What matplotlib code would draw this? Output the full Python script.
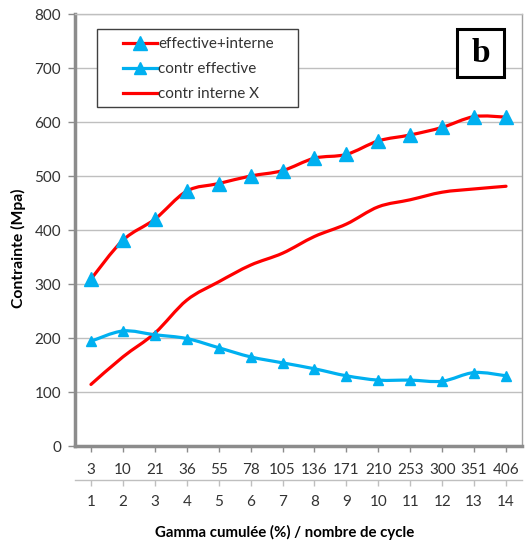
import matplotlib
matplotlib.use("Agg")
import matplotlib.pyplot as plt
from matplotlib.path import Path
from matplotlib.patches import PathPatch, Rectangle
from matplotlib.lines import Line2D
import numpy as np

plt.rcParams['font.family'] = ['Lato', 'DejaVu Sans']

cycles = [1, 2, 3, 4, 5, 6, 7, 8, 9, 10, 11, 12, 13, 14]
gamma_labels = ['3', '10', '21', '36', '55', '78', '105', '136', '171', '210', '253', '300', '351', '406']
eff_plus_int = [309, 381, 420, 472, 486, 500, 510, 533, 540, 565, 576, 590, 610, 609]
contr_eff = [194, 213, 206, 199, 182, 165, 154, 143, 130, 122, 122, 120, 136, 130]
contr_int = [114, 165, 209, 270, 304, 335, 357, 388, 411, 443, 456, 470, 476, 481]

RED = '#FF0000'
BLUE = '#00B0F0'
GREY = '#8C8C8C'
TXT = '#333333'

W, H = 525, 542
AX_L, AX_R, AX_T, AX_B = 75, 522, 14, 446
AW, AH = AX_R - AX_L, AX_B - AX_T

fig = plt.figure(figsize=(W / 100, H / 100), dpi=100)
ax = fig.add_axes([AX_L / W, 1 - AX_B / H, AW / W, AH / H])


def px(x, y):
    """pixel (from top-left of figure) -> axes fraction"""
    return (x - AX_L) / AW, (AX_B - y) / AH


def smooth_path(xs, ys):
    pts = np.column_stack([xs, ys]).astype(float)
    n = len(pts)
    verts = [pts[0]]
    codes = [Path.MOVETO]
    for i in range(n - 1):
        p0 = pts[i - 1] if i > 0 else pts[i]
        p1 = pts[i]
        p2 = pts[i + 1]
        p3 = pts[i + 2] if i + 2 < n else pts[i + 1]
        c1 = p1 + (p2 - p0) / 6.0
        c2 = p2 - (p3 - p1) / 6.0
        verts += [c1, c2, p2]
        codes += [Path.CURVE4] * 3
    return Path(verts, codes)


for ys, col in [(contr_int, RED), (contr_eff, BLUE), (eff_plus_int, RED)]:
    ax.add_patch(PathPatch(smooth_path(cycles, ys), fill=False, edgecolor=col,
                           lw=2.3, zorder=3, capstyle='round', joinstyle='round'))

ax.plot(cycles, contr_eff, ls='none', marker='^', ms=7.5, color=BLUE, zorder=4)
ax.plot(cycles, eff_plus_int, ls='none', marker='^', ms=10, color=BLUE, zorder=4)

ax.set_xlim(0.5, 14.5)
ax.set_ylim(0, 800)
ax.set_yticks(range(0, 801, 100))
ax.yaxis.grid(True, color='#BFBFBF', lw=1.0)
ax.set_axisbelow(True)

for s in ['left', 'bottom']:
    ax.spines[s].set_color(GREY)
    ax.spines[s].set_linewidth(2.5)
ax.spines['right'].set_color('#A0A0A0')
ax.spines['right'].set_linewidth(1.0)
ax.spines['top'].set_color('#BFBFBF')
ax.spines['top'].set_linewidth(1.0)

ax.tick_params(axis='y', direction='out', length=5, width=1, color=GREY,
               labelsize=11, labelcolor=TXT, pad=5)
ax.set_xticks(cycles)
ax.set_xticklabels(gamma_labels)
ax.tick_params(axis='x', direction='out', length=4, width=1, color=GREY,
               labelsize=11, labelcolor=TXT, pad=8)

sec = ax.secondary_xaxis(-34 / AH)
sec.set_xticks(cycles)
sec.set_xticklabels([str(c) for c in cycles])
sec.spines['bottom'].set_color('#BFBFBF')
sec.spines['bottom'].set_linewidth(1.0)
sec.tick_params(axis='x', direction='out', length=4, width=1, color='#BFBFBF',
                labelsize=11, labelcolor=TXT, pad=7)

fig.text(18 / W, 1 - 248 / H, 'Contrainte (Mpa)', rotation=90, ha='center', va='center',
         fontsize=11.3, fontweight='bold', color='#000000')
fig.text(285 / W, 1 - 532 / H, 'Gamma cumulée (%) / nombre de cycle', ha='center', va='center',
         fontsize=10.8, fontweight='bold', color='#000000')

# legend frame
lx0, ly0 = px(97, 107)
lx1, ly1 = px(298, 29)
ax.add_patch(Rectangle((lx0, ly0), lx1 - lx0, ly1 - ly0, transform=ax.transAxes,
                       fc='white', ec='#404040', lw=1.0, zorder=5))

handles = [
    Line2D([], [], color=RED, lw=2.3, marker='^', ms=10, mfc=BLUE, mec=BLUE),
    Line2D([], [], color=BLUE, lw=2.3, marker='^', ms=8, mfc=BLUE, mec=BLUE),
    Line2D([], [], color=RED, lw=2.3),
]
leg = ax.legend(handles, ['effective+interne', 'contr effective', 'contr interne X'],
                loc='upper left', bbox_to_anchor=px(123, 37),
                fontsize=11, frameon=False,
                handlelength=2.2, handletextpad=0.1, borderpad=0, labelspacing=0.72,
                borderaxespad=0)
leg.set_zorder(6)
for t in leg.get_texts():
    t.set_color(TXT)

# "b" label box
bx0, by0 = px(457, 77)
bx1, by1 = px(504, 29)
ax.add_patch(Rectangle((bx0, by0), bx1 - bx0, by1 - by0, transform=ax.transAxes,
                       fc='white', ec='black', lw=2.2, zorder=5))
ax.text(*px(480.5, 53), 'b', transform=ax.transAxes, ha='center', va='center',
        fontsize=24, fontweight='bold', family='Liberation Serif', color='black', zorder=6)

fig.savefig('out.png', dpi=100)
